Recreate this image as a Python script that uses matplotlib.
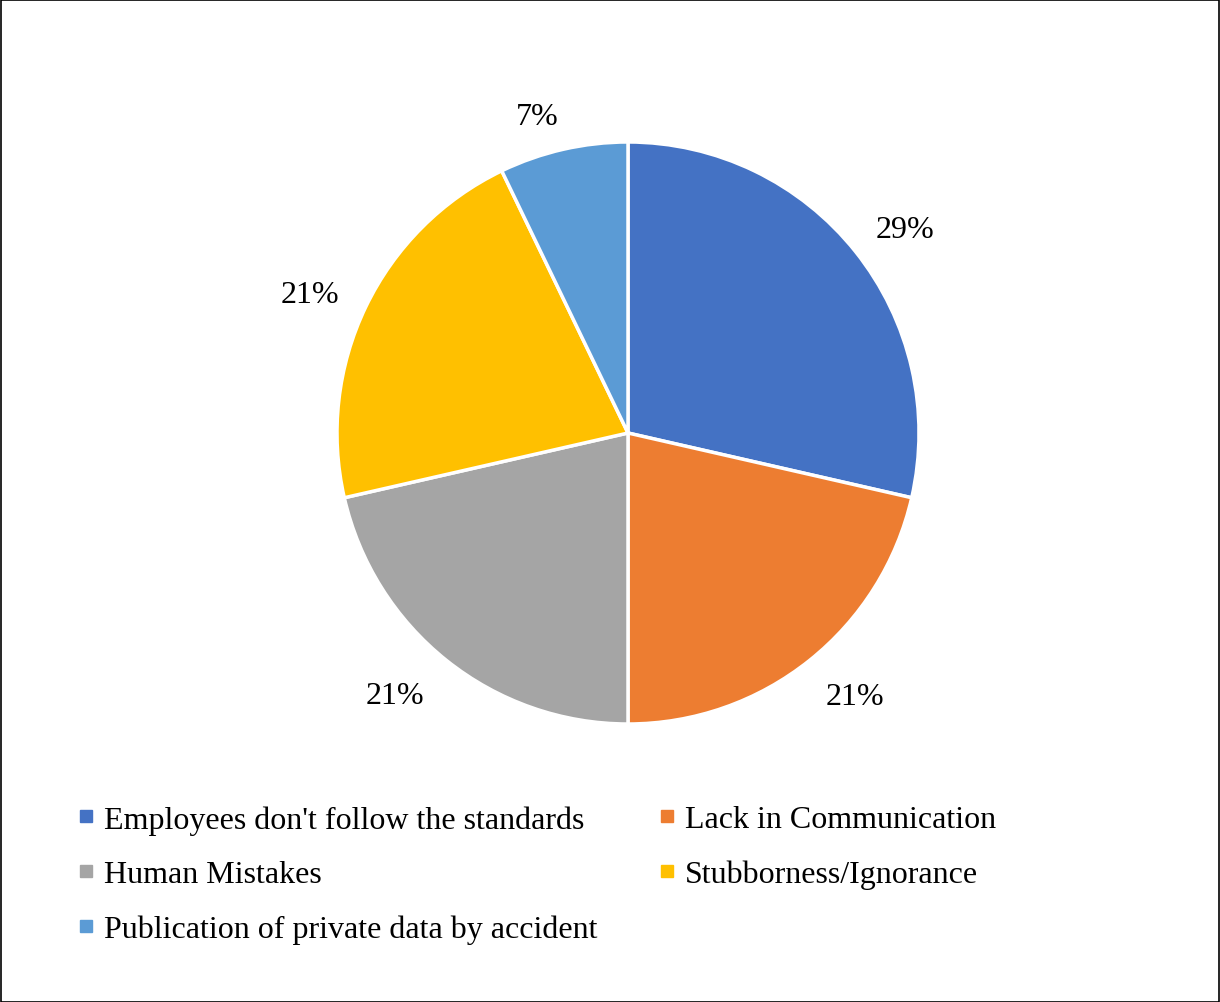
import numpy as np
import matplotlib.pyplot as plt
from matplotlib.lines import Line2D
from matplotlib.patches import Rectangle

plt.rcParams['font.family'] = ['Liberation Serif', 'DejaVu Serif']

# Data
labels = ["Employees don't follow the standards", "Lack in Communication",
          "Human Mistakes", "Stubborness/Ignorance",
          "Publication of private data by accident"]
counts = [4, 3, 3, 3, 1]
colors = ['#4472C4', '#ED7D31', '#A5A5A5', '#FFC000', '#5B9BD5']

W, H = 1220, 1003
fig = plt.figure(figsize=(W / 100, H / 100), dpi=100)

cx, cy, r = 628, H - 434, 291
ax = fig.add_axes([(cx - r) / W, (cy - r) / H, 2 * r / W, 2 * r / H])
wedges, texts, autotexts = ax.pie(
    counts, colors=colors, startangle=90, counterclock=False,
    autopct=lambda p: f'{p:.0f}%', pctdistance=1.19,
    wedgeprops=dict(edgecolor='white', linewidth=2.5),
    textprops=dict(fontsize=23, color='black'))

# nudge data labels like the original
label_dist = [1.186, 1.188, 1.20, 1.195, 1.14]
label_shift = [-2, 2.4, -3.2, 1.8, 3]
for w, t, d, s in zip(wedges, autotexts, label_dist, label_shift):
    ang = np.deg2rad((w.theta1 + w.theta2) / 2 + s)
    t.set_position((d * np.cos(ang), d * np.sin(ang) - 0.008))

ax.set_xlim(-1, 1)
ax.set_ylim(-1, 1)
ax.set_aspect('equal')
ax.axis('off')

# Legend (row-major order as in original)
handles = [Line2D([], [], marker='s', linestyle='none', markersize=8,
                  markerfacecolor=c, markeredgecolor=c) for c in colors]
order = [0, 2, 4, 1, 3]
fig.legend([handles[i] for i in order], [labels[i] for i in order],
           loc='upper left', bbox_to_anchor=(78 / W, 1 - 806 / H),
           ncol=2, frameon=False, fontsize=23, handlelength=0.5,
           handletextpad=0.3, columnspacing=1.94, labelspacing=0.79,
           borderaxespad=0, borderpad=0)

# Frame around figure
fig.patches.append(Rectangle((0.5 / W, 0.5 / H), 1 - 1.5 / W, 1 - 1.5 / H,
                             transform=fig.transFigure, fill=False,
                             edgecolor='black', linewidth=1.2))

fig.savefig('out.png', dpi=100)
